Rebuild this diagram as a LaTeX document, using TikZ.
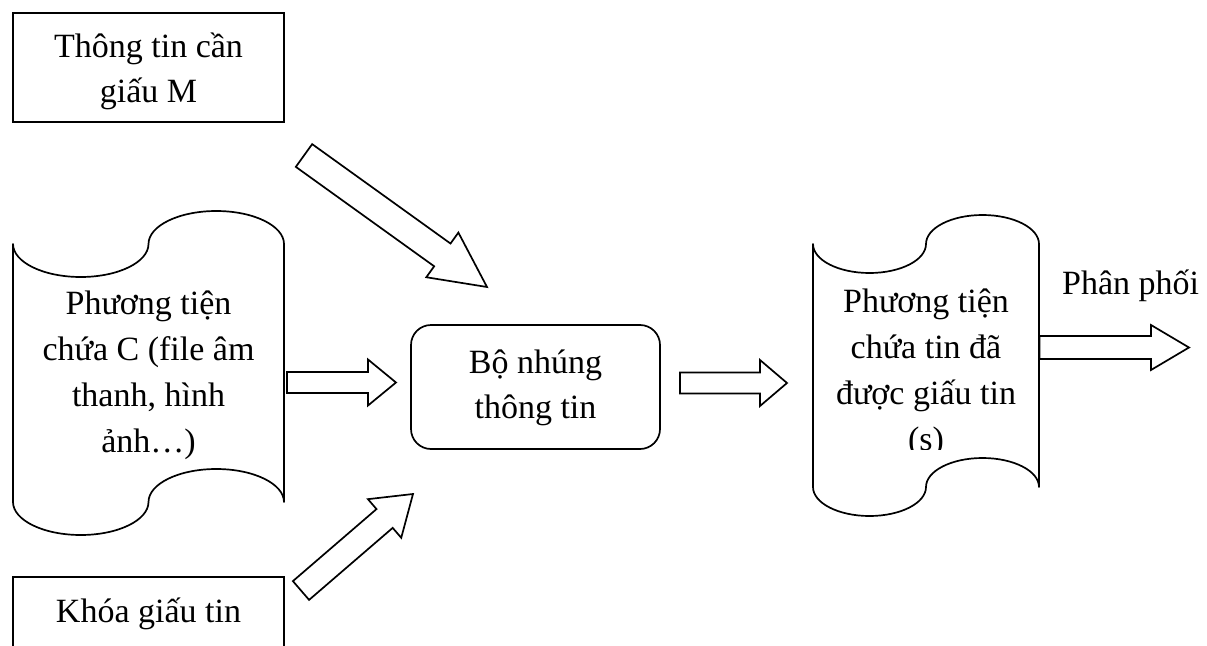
\documentclass[tikz,border=0pt]{standalone}
\usepackage{fontspec}
\setmainfont{Liberation Serif}
\usetikzlibrary{calc}
\renewcommand{\arraystretch}{1}
\newcommand{\mylines}[2]{{\fontsize{34}{#1}\selectfont\begin{tabular}[t]{@{}c@{}}#2\end{tabular}}}
\newcommand{\blockarrow}[5]{%
  \coordinate (#1-#2-h) at ($(#2)!#5!(#1)$);
  \draw[blockarr] ($(#1)!#3!90:(#2)$) -- ($(#1-#2-h)!#3!-90:(#1)$) -- ($(#1-#2-h)!#4!-90:(#1)$) -- (#2) -- ($(#1-#2-h)!#4!90:(#1)$) -- ($(#1-#2-h)!#3!90:(#1)$) -- ($(#1)!#3!-90:(#2)$) -- cycle;
}
\tikzset{
  boxnode/.style={draw, line width=1.7pt, inner sep=0pt, minimum width=271pt, anchor=base, align=center},
  txt/.style={inner sep=0pt, anchor=base},
  blockarr/.style={draw, line width=1.7pt, line join=miter},
  tapeline/.style={draw, line width=1.7pt, line join=round},
}
\begin{document}
\begin{tikzpicture}[x=1pt, y=-1pt]
\useasboundingbox (0,0) rectangle (1207,645);
\clip (0,0) rectangle (1207,645);

% top box
\node[boxnode, text height=44pt, text depth=65pt] (msg) at (148.5,57) {\mylines{45}{Thông tin cần\\giấu M}};

% left tape (cover medium)
\draw[tapeline] (13,244) .. controls (13,262.2) and (43.35,277) .. (80.75,277)
  .. controls (118.15,277) and (148.5,262.2) .. (148.5,244)
  .. controls (148.5,225.8) and (178.85,211) .. (216.25,211)
  .. controls (253.65,211) and (284,225.8) .. (284,244) -- (284,502)
  .. controls (284,483.8) and (253.65,469) .. (216.25,469)
  .. controls (178.85,469) and (148.5,483.8) .. (148.5,502)
  .. controls (148.5,520.2) and (118.15,535) .. (80.75,535)
  .. controls (43.35,535) and (13,520.2) .. (13,502) -- cycle;
\node[txt] (cover) at (148.5,314) {\mylines{46}{Phương tiện\\chứa C (file âm\\thanh, hình\\ảnh…)}};

% embedder
\node[boxnode, rounded corners=20pt, minimum width=249pt, text height=48pt, text depth=76pt] (embed) at (535.5,373) {\mylines{45}{Bộ nhúng\\thông tin}};

% right tape (stego medium)
\draw[tapeline] (813,244) .. controls (813,260) and (838.3,273) .. (869.5,273)
  .. controls (900.7,273) and (926,260) .. (926,244)
  .. controls (926,228) and (951.3,215) .. (982.5,215)
  .. controls (1013.7,215) and (1039,228) .. (1039,244) -- (1039,487)
  .. controls (1039,471) and (1013.7,458) .. (982.5,458)
  .. controls (951.3,458) and (926,471) .. (926,487)
  .. controls (926,503) and (900.7,516) .. (869.5,516)
  .. controls (838.3,516) and (813,503) .. (813,487) -- cycle;
\begin{scope}
\clip (800,200) rectangle (1050,449);
\node[txt] (stego) at (926,312) {\mylines{46}{Phương tiện\\chứa tin đã\\được giấu tin\\(s)}};
\end{scope}

% distribution label
\node[txt, anchor=base west] (dist) at (1062,294) {\fontsize{34}{45}\selectfont Phân phối};

% bottom box
\node[boxnode, text height=45pt, text depth=60pt] (key) at (148.5,622) {\mylines{45}{Khóa giấu tin}};

% block arrows
\coordinate (c1a) at (287,382.5);  \coordinate (c1b) at (396,382.5);
\coordinate (c2a) at (680,383);    \coordinate (c2b) at (787,383);
\coordinate (c3a) at (1039.5,347.5); \coordinate (c3b) at (1189,347.5);
\coordinate (c4a) at (304,155.5);  \coordinate (c4b) at (487,287);
\coordinate (c5a) at (301,590.5);  \coordinate (c5b) at (413,494);
\blockarrow{c1a}{c1b}{10.5pt}{23pt}{28pt}
\blockarrow{c2a}{c2b}{10.5pt}{23pt}{27pt}
\blockarrow{c3a}{c3b}{11.5pt}{22.5pt}{38pt}
\blockarrow{c4a}{c4b}{14pt}{27.5pt}{55pt}
\blockarrow{c5a}{c5b}{12.4pt}{25.5pt}{37.5pt}
\end{tikzpicture}
\end{document}
